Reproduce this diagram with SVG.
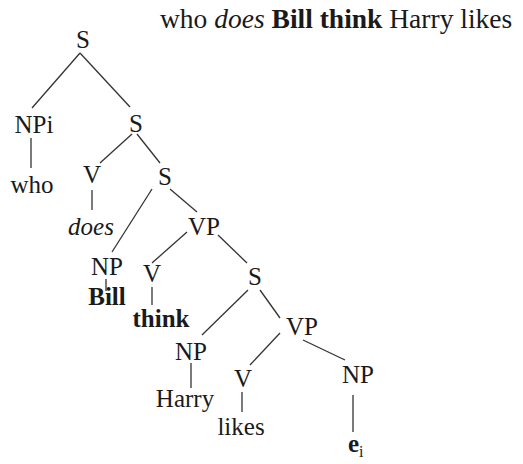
<svg xmlns="http://www.w3.org/2000/svg" width="523" height="464" viewBox="0 0 523 464">
<style>
text{font-family:"Liberation Serif","Times New Roman",serif;font-size:25px;fill:#1a1a1a;text-anchor:middle}
.t{font-size:27.5px;text-anchor:start}
.b{font-weight:bold}
.i{font-style:italic}
line{stroke:#333;stroke-width:1.3}
</style>
<rect width="523" height="464" fill="#fff"/>
<text class="t" x="160" y="28">who <tspan class="i">does</tspan> <tspan class="b">Bill think</tspan> Harry likes</text>
<g id="connectors">
<line x1="80" y1="53" x2="32" y2="108"/>
<line x1="80" y1="53" x2="130" y2="107"/>
<line x1="31" y1="138" x2="31" y2="168"/>
<line x1="132" y1="134" x2="100" y2="163"/>
<line x1="137" y1="134" x2="160" y2="163"/>
<line x1="92" y1="190" x2="92" y2="210"/>
<line x1="152" y1="189" x2="112" y2="252"/>
<line x1="170" y1="189" x2="197" y2="212"/>
<line x1="106" y1="279" x2="106" y2="291"/>
<line x1="187" y1="232" x2="152" y2="263"/>
<line x1="218" y1="235" x2="247" y2="263"/>
<line x1="152" y1="287" x2="152" y2="305"/>
<line x1="248" y1="290" x2="202" y2="335"/>
<line x1="260" y1="290" x2="280" y2="318"/>
<line x1="191" y1="363" x2="191" y2="388"/>
<line x1="280" y1="333" x2="250" y2="365"/>
<line x1="303" y1="340" x2="345" y2="360"/>
<line x1="242" y1="392" x2="242" y2="412"/>
<line x1="353" y1="395" x2="353" y2="432"/>
</g>
<g id="n-S1"><text x="83" y="48">S</text></g>
<g id="n-NPi"><text x="34" y="133">NPi</text></g>
<g id="n-who"><text x="32" y="193">who</text></g>
<g id="n-S2"><text x="136" y="132">S</text></g>
<g id="n-V1"><text x="92" y="183">V</text></g>
<g id="n-does"><text class="i" x="91" y="235">does</text></g>
<g id="n-S3"><text x="165" y="185">S</text></g>
<g id="n-NP1"><text x="107" y="275">NP</text></g>
<g id="n-Bill"><text class="b" x="107" y="305">Bill</text></g>
<g id="n-VP1"><text x="204" y="235">VP</text></g>
<g id="n-V2"><text x="152" y="282">V</text></g>
<g id="n-think"><text class="b" x="161" y="327">think</text></g>
<g id="n-S4"><text x="255" y="285">S</text></g>
<g id="n-NP2"><text x="191" y="360">NP</text></g>
<g id="n-Harry"><text x="185" y="407">Harry</text></g>
<g id="n-VP2"><text x="302" y="335">VP</text></g>
<g id="n-V3"><text x="243" y="387">V</text></g>
<g id="n-likes"><text x="241" y="435">likes</text></g>
<g id="n-NP3"><text x="358" y="383">NP</text></g>
<g id="n-e"><text class="b" x="348" y="452" style="text-anchor:start">e<tspan font-weight="normal" font-size="16" dy="5">i</tspan></text></g>
</svg>
